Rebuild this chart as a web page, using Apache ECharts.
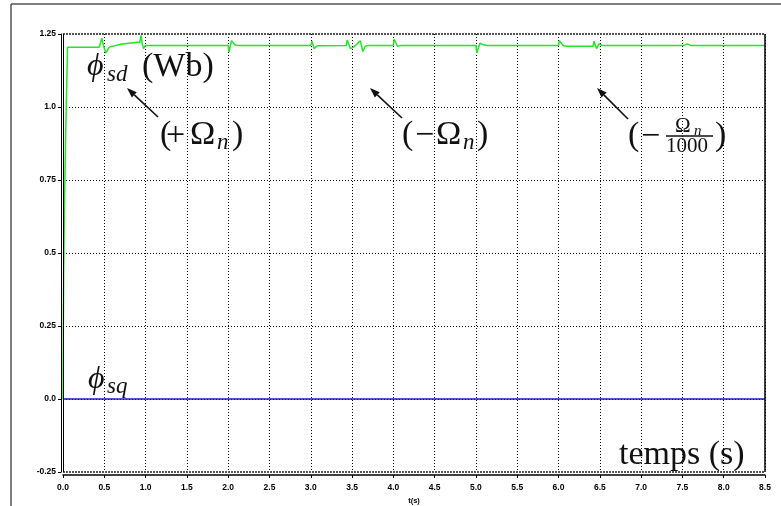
<!DOCTYPE html>
<html>
<head>
<meta charset="utf-8">
<script src="https://cdn.jsdelivr.net/npm/echarts@6/dist/echarts.min.js"></script>
<style>html,body{margin:0;padding:0;background:#fff;}#c{width:781px;height:506px;}</style>
</head>
<body>
<div id="c"></div>
<script>
// ---- data ----
const tSd = [0, 0.003, 0.006, 0.008, 0.015, 0.018, 0.028, 0.032, 0.045, 0.055,
  0.44, 0.47, 0.49, 0.52, 0.56, 0.7, 0.9, 0.93, 0.945, 0.96, 0.975, 1.0,
  2.0, 2.01, 2.04, 2.08, 2.12,
  3.0, 3.015, 3.04, 3.08,
  3.43, 3.44, 3.48, 3.52, 3.60, 3.63, 3.66, 3.70,
  4.0, 4.01, 4.05, 4.1,
  5.0, 5.01, 5.05, 5.09, 5.14,
  6.0, 6.01, 6.06, 6.1, 6.42, 6.43, 6.46, 6.49, 6.53,
  7.52, 7.53, 7.56, 7.6, 8.5];
const phiSd = [0, 0.2, 0.2, 0.43, 0.43, 0.67, 0.67, 0.9, 0.9, 1.205,
  1.205, 1.236, 1.21, 1.185, 1.205, 1.215, 1.222, 1.222, 1.245, 1.215, 1.20, 1.211,
  1.211, 1.188, 1.227, 1.213, 1.211,
  1.211, 1.225, 1.20, 1.21,
  1.211, 1.229, 1.20, 1.205, 1.227, 1.19, 1.208, 1.211,
  1.211, 1.232, 1.208, 1.211,
  1.211, 1.185, 1.219, 1.213, 1.211,
  1.211, 1.227, 1.21, 1.208, 1.208, 1.225, 1.20, 1.216, 1.211,
  1.211, 1.205, 1.216, 1.211, 1.211];
const tSq = [0, 8.5];
const phiSq = [0, 0];
const xTicks = {min: 0, max: 8.5, step: 0.5};
const yTicks = {min: -0.25, max: 1.25, step: 0.25};
const yLabels = {'-0.25': '-0.25', '0': '0.0', '0.25': '0.25', '0.5': '0.5', '0.75': '0.75', '1': '1.0', '1.25': '1.25'};

// ---- helpers for annotations ----
const SERIF = '"Liberation Serif", "DejaVu Serif", serif';
function txt(x, y, s, size, italic) {
  return {type: 'text', x: x, y: y, z: 100,
    style: {text: s, fontFamily: SERIF, fontSize: size, fontStyle: italic ? 'italic' : 'normal',
      fill: '#111', verticalAlign: 'middle', align: 'left'}};
}
function arrow(x1, y1, x2, y2) {
  const dx = x2 - x1, dy = y2 - y1, L = Math.hypot(dx, dy);
  const ux = dx / L, uy = dy / L, hl = 10, hw = 3.6;
  const bx = x2 - ux * hl, by = y2 - uy * hl;
  return [
    {type: 'line', z: 100, shape: {x1: x1, y1: y1, x2: bx, y2: by}, style: {stroke: '#111', lineWidth: 1.6}},
    {type: 'polygon', z: 100, shape: {points: [[x2, y2], [bx - uy * hw, by + ux * hw], [bx + uy * hw, by - ux * hw]]},
      style: {fill: '#111'}}
  ];
}

const graphics = [].concat(
  [{type: 'line', shape: {x1: 11, y1: 4, x2: 781, y2: 4}, style: {stroke: '#555', lineWidth: 1.5}},
   {type: 'line', shape: {x1: 11, y1: 4, x2: 11, y2: 506}, style: {stroke: '#555', lineWidth: 1.5}}],
  // phi_sd (Wb)
  [txt(87, 67, 'ϕ', 32, true), txt(107, 75, 'sd', 23, true), txt(142, 67, '(Wb)', 34, false)],
  arrow(158, 117, 127, 88),
  [txt(160, 135, '(', 34, false), txt(166, 136, '+', 34, false), txt(190, 135, 'Ω', 34, false),
   txt(217, 143, 'n', 23, true), txt(232, 135, ')', 34, false)],
  arrow(402, 118, 370, 88),
  [txt(402, 135, '(', 34, false), txt(415, 136, '−', 34, false), txt(436, 135, 'Ω', 34, false),
   txt(463, 143, 'n', 23, true), txt(477, 135, ')', 34, false)],
  arrow(628, 119, 597, 88),
  [txt(628, 136, '(', 34, false), txt(641, 137, '−', 34, false),
   txt(675, 126, 'Ω', 21, false), txt(694, 131, 'n', 15, true),
   {type: 'line', z: 100, shape: {x1: 666, y1: 136, x2: 713, y2: 136}, style: {stroke: '#111', lineWidth: 1.4}},
   txt(666, 146, '1000', 21, false), txt(715, 136, ')', 34, false)],
  [txt(88, 380, 'ϕ', 32, true), txt(107, 387, 'sq', 23, true)],
  [txt(619, 455, 'temps (s)', 34, false)]
);

const chart = echarts.init(document.getElementById('c'), null, {renderer: 'canvas'});
const dotted = {color: '#000', width: 1, type: [1, 2]};
const lblFont = {fontFamily: '"Liberation Sans", Arial, sans-serif', fontSize: 8.5, fontWeight: 'bold', color: '#000'};
chart.setOption({
  animation: false,
  backgroundColor: '#fff',
  grid: {left: 63, top: 34, right: 16, bottom: 34, containLabel: false, outerBoundsMode: 'none'},
  xAxis: {
    type: 'value', min: xTicks.min, max: xTicks.max, interval: xTicks.step, offset: 3,
    name: 't(s)', nameLocation: 'middle', nameGap: 15,
    nameTextStyle: Object.assign({}, lblFont, {fontSize: 7.5}),
    axisLine: {show: true, onZero: false, lineStyle: {color: '#000', width: 1.5}},
    axisTick: {show: true, length: 3, lineStyle: {color: '#000'}},
    axisLabel: Object.assign({}, lblFont, {margin: 8, formatter: v => v.toFixed(1)}),
    splitLine: {show: true, lineStyle: dotted}
  },
  yAxis: {
    type: 'value', min: yTicks.min, max: yTicks.max, interval: yTicks.step, offset: 2,
    axisLine: {show: true, onZero: false, lineStyle: {color: '#000', width: 1}},
    axisTick: {show: true, length: 3, lineStyle: {color: '#000'}},
    axisLabel: Object.assign({}, lblFont, {margin: 5, formatter: v => yLabels[String(+v.toFixed(2))] || String(v)}),
    splitLine: {show: true, lineStyle: dotted}
  },
  graphic: graphics,
  series: [
    {
      name: 'phi_sq', type: 'line', showSymbol: false, symbol: 'none',
      data: tSq.map((t, i) => [t, phiSq[i]]),
      lineStyle: {color: '#1a1ad0', width: 1.5}, z: 3,
      markLine: {
        silent: true, symbol: 'none', label: {show: false},
        data: [
          {yAxis: yTicks.max, lineStyle: {color: '#555', width: 2, type: [2, 1]}},
          {yAxis: yTicks.min, lineStyle: {color: '#555', width: 2, type: [2, 1]}},
          {xAxis: xTicks.min, lineStyle: {color: '#000', width: 1, type: 'solid'}},
          {xAxis: xTicks.max, lineStyle: {color: '#000', width: 1.5, type: 'solid'}}
        ]
      }
    },
    {
      name: 'phi_sd', type: 'line', showSymbol: false, symbol: 'none',
      data: tSd.map((t, i) => [t, phiSd[i]]),
      lineStyle: {color: '#22e622', width: 1.5}, z: 4
    }
  ]
});
</script>
</body>
</html>
